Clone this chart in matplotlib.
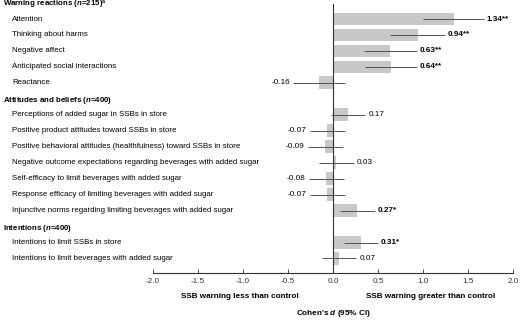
import matplotlib.pyplot as plt
from matplotlib.transforms import blended_transform_factory

plt.rcParams["font.family"] = ["Liberation Sans", "DejaVu Sans"]
plt.rcParams["mathtext.fontset"] = "custom"
plt.rcParams["mathtext.rm"] = "Liberation Sans:bold"
plt.rcParams["mathtext.it"] = "Liberation Sans:italic:bold"
plt.rcParams["mathtext.bf"] = "Liberation Sans:bold"

# section headers sit on their own rows, no data
header_rows = [0, 6, 14]
header_text = [
    r"Warning reactions ($n$=215)$^{\mathrm{a}}$",
    r"Attitudes and beliefs ($n$=400)",
    r"Intentions ($n$=400)",
]
outcomes = [
    "Attention",
    "Thinking about harms",
    "Negative affect",
    "Anticipated social interactions",
    "Reactance",
    "Perceptions of added sugar in SSBs in store",
    "Positive product attitudes toward SSBs in store",
    "Positive behavioral attitudes (healthfulness) toward SSBs in store",
    "Negative outcome expectations regarding beverages with added sugar",
    "Self-efficacy to limit beverages with added sugar",
    "Response efficacy of limiting beverages with added sugar",
    "Injunctive norms regarding limiting beverages with added sugar",
    "Intentions to limit SSBs in store",
    "Intentions to limit beverages with added sugar",
]
rows = [1, 2, 3, 4, 5, 7, 8, 9, 10, 11, 12, 13, 15, 16]
d_vals = [1.34, 0.94, 0.63, 0.64, -0.16, 0.17, -0.07, -0.09, 0.03, -0.08, -0.07, 0.27, 0.31, 0.07]
ci_lo = [1.00, 0.63, 0.34, 0.35, -0.44, -0.02, -0.26, -0.28, -0.16, -0.27, -0.26, 0.08, 0.12, -0.12]
ci_hi = [1.67, 1.24, 0.93, 0.93, 0.13, 0.36, 0.13, 0.11, 0.23, 0.12, 0.13, 0.47, 0.50, 0.26]
stars = ["**", "**", "**", "**", "", "", "", "", "", "", "", "*", "*", ""]

fs = 5.65
fs_ax = 5.9
fig = plt.figure(figsize=(5.2, 3.21), dpi=100)
ax = fig.add_axes([0.294, 0.150, 0.693, 0.838])

ax.barh(rows, d_vals, height=0.8, color="#c8c8c8", zorder=1)
ax.hlines(rows, ci_lo, ci_hi, color="#555555", lw=0.7, zorder=2)
ax.axvline(0, color="#333333", lw=0.8, zorder=3)

for r, d, lo, hi, s in zip(rows, d_vals, ci_lo, ci_hi, stars):
    txt = f"{d:.2f}{s}"
    weight = "bold" if s else "normal"
    if d < 0:
        ax.text(lo - 0.04, r, txt, ha="right", va="center", fontsize=fs_ax, fontweight=weight)
    else:
        ax.text(hi + 0.03, r, txt, ha="left", va="center", fontsize=fs_ax, fontweight=weight)

tr = blended_transform_factory(fig.transFigure, ax.transData)
for r, h in zip(header_rows, header_text):
    ax.text(0.006, r + 0.1, h, transform=tr, ha="left", va="center", fontsize=fs, fontweight="bold")
for r, name in zip(rows, outcomes):
    ax.text(0.023, r, name, transform=tr, ha="left", va="center", fontsize=fs)

ax.set_xlim(-2, 2)
ax.set_ylim(16.9, 0.05)
ax.set_xticks([-2.0, -1.5, -1.0, -0.5, 0.0, 0.5, 1.0, 1.5, 2.0])
ax.set_xticklabels(["-2.0", "-1.5", "-1.0", "-0.5", "0.0", "0.5", "1.0", "1.5", "2.0"])
ax.set_yticks([])
for side in ["top", "right", "left"]:
    ax.spines[side].set_visible(False)
ax.spines["bottom"].set_linewidth(0.8)
ax.spines["bottom"].set_color("#333333")
ax.tick_params(axis="x", direction="in", length=3, width=0.6, labelsize=fs_ax, pad=3.5, colors="#333333")

xt = blended_transform_factory(ax.transData, ax.transAxes)
ax.text(-1.03, -0.088, "SSB warning less than control", transform=xt,
        ha="center", va="center", fontsize=fs_ax, fontweight="bold")
ax.text(1.08, -0.088, "SSB warning greater than control", transform=xt,
        ha="center", va="center", fontsize=fs_ax, fontweight="bold")
ax.text(0.0, -0.152, r"Cohen's $d$ (95% CI)", transform=xt,
        ha="center", va="center", fontsize=fs_ax, fontweight="bold")

fig.savefig("out.png", dpi=100)
